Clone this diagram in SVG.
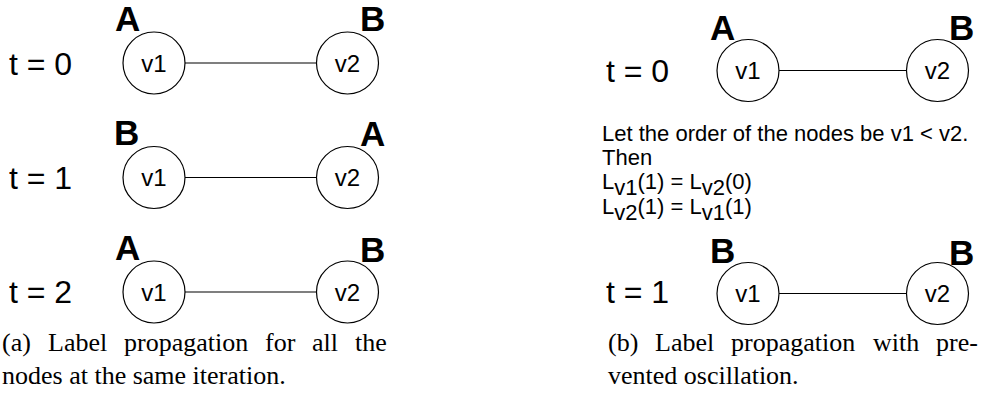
<svg xmlns="http://www.w3.org/2000/svg" width="990" height="405" viewBox="0 0 990 405">
<style>
.bg{fill:#ffffff}
.node{fill:#ffffff;stroke:#000000;stroke-width:1.2}
.edge{stroke:#000000;stroke-width:1.2;fill:none}
.nl{font-family:"Liberation Sans",Arial,Helvetica,sans-serif;font-size:24px;fill:#000;text-anchor:middle}
.lab{font-family:"Liberation Sans",Arial,Helvetica,sans-serif;font-size:35px;font-weight:bold;fill:#000}
.t{font-family:"Liberation Sans",Arial,Helvetica,sans-serif;font-size:32px;fill:#000}
.txt{font-family:"Liberation Sans",Arial,Helvetica,sans-serif;font-size:22px;fill:#000}
.cap{font-family:"Liberation Serif","Times New Roman",serif;font-size:26px;fill:#000}
</style>
<rect class="bg" x="0" y="0" width="990" height="405"/>

<g id="connectors">
  <line class="edge" x1="185" y1="63" x2="316.5" y2="63"/>
  <line class="edge" x1="185" y1="177.5" x2="316.5" y2="177.5"/>
  <line class="edge" x1="185" y1="292" x2="316.5" y2="292"/>
  <line class="edge" x1="779" y1="70.5" x2="906.5" y2="70.5"/>
  <line class="edge" x1="779" y1="293.5" x2="906.5" y2="293.5"/>
</g>

<!-- Panel (a) -->
<g id="a-t0-label"><text class="t" x="9" y="75">t = 0</text></g>
<g id="a-t0-v1">
  <circle class="node" cx="154" cy="63" r="31"/>
  <text class="nl" x="154" y="71.5">v1</text>
  <text class="lab" x="115" y="31">A</text>
</g>
<g id="a-t0-v2">
  <circle class="node" cx="347.5" cy="63" r="31"/>
  <text class="nl" x="347.5" y="71.5">v2</text>
  <text class="lab" x="360" y="31">B</text>
</g>

<g id="a-t1-label"><text class="t" x="9" y="189">t = 1</text></g>
<g id="a-t1-v1">
  <circle class="node" cx="154" cy="177.5" r="31"/>
  <text class="nl" x="154" y="186">v1</text>
  <text class="lab" x="114" y="145">B</text>
</g>
<g id="a-t1-v2">
  <circle class="node" cx="347.5" cy="177.5" r="31"/>
  <text class="nl" x="347.5" y="186">v2</text>
  <text class="lab" x="360" y="146">A</text>
</g>

<g id="a-t2-label"><text class="t" x="9" y="303">t = 2</text></g>
<g id="a-t2-v1">
  <circle class="node" cx="154" cy="292" r="31"/>
  <text class="nl" x="154" y="300.5">v1</text>
  <text class="lab" x="115" y="260">A</text>
</g>
<g id="a-t2-v2">
  <circle class="node" cx="347.5" cy="292" r="31"/>
  <text class="nl" x="347.5" y="300.5">v2</text>
  <text class="lab" x="360" y="262">B</text>
</g>

<g id="caption-a">
  <text class="cap" y="351"><tspan x="2">(a)</tspan><tspan x="48">Label</tspan><tspan x="124">propagation</tspan><tspan x="265">for</tspan><tspan x="312">all</tspan><tspan x="355">the</tspan></text>
  <text class="cap" x="2" y="384">nodes at the same iteration.</text>
</g>

<!-- Panel (b) -->
<g id="b-t0-label"><text class="t" x="606" y="82">t = 0</text></g>
<g id="b-t0-v1">
  <circle class="node" cx="748" cy="70.5" r="31"/>
  <text class="nl" x="748" y="79">v1</text>
  <text class="lab" x="710" y="40">A</text>
</g>
<g id="b-t0-v2">
  <circle class="node" cx="937.5" cy="70.5" r="31"/>
  <text class="nl" x="937.5" y="79">v2</text>
  <text class="lab" x="949" y="40">B</text>
</g>

<g id="b-rule">
  <text class="txt" x="602" y="141">Let the order of the nodes be v1 &lt; v2.</text>
  <text class="txt" x="602" y="165">Then</text>
  <text class="txt" x="602" y="189">L<tspan dy="6">v1</tspan><tspan dy="-6">(1) = L</tspan><tspan dy="6">v2</tspan><tspan dy="-6">(0)</tspan></text>
  <text class="txt" x="602" y="214">L<tspan dy="6">v2</tspan><tspan dy="-6">(1) = L</tspan><tspan dy="6">v1</tspan><tspan dy="-6">(1)</tspan></text>
</g>

<g id="b-t1-label"><text class="t" x="606" y="303">t = 1</text></g>
<g id="b-t1-v1">
  <circle class="node" cx="748" cy="293.5" r="31"/>
  <text class="nl" x="748" y="302">v1</text>
  <text class="lab" x="710" y="263">B</text>
</g>
<g id="b-t1-v2">
  <circle class="node" cx="937.5" cy="293.5" r="31"/>
  <text class="nl" x="937.5" y="302">v2</text>
  <text class="lab" x="949" y="265">B</text>
</g>

<g id="caption-b">
  <text class="cap" y="351"><tspan x="608">(b)</tspan><tspan x="655">Label</tspan><tspan x="731">propagation</tspan><tspan x="873">with</tspan><tspan x="936">pre-</tspan></text>
  <text class="cap" x="608" y="384">vented oscillation.</text>
</g>
</svg>
